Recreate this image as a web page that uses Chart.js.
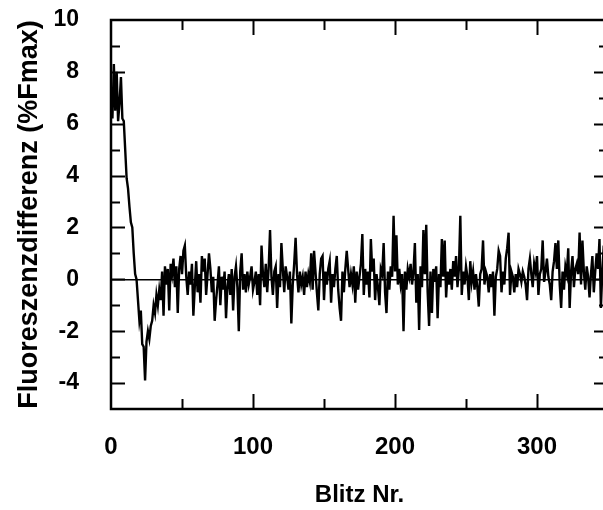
<!DOCTYPE html>
<html>
<head>
<meta charset="utf-8">
<script src="https://cdn.jsdelivr.net/npm/chart.js@4/dist/chart.umd.min.js"></script>
<style>
  html, body { margin: 0; padding: 0; background: #fff; overflow: hidden; }
  #wrap { width: 603px; height: 510px; overflow: hidden; }
</style>
</head>
<body>
<div id="wrap"><canvas id="c" width="620" height="510"></canvas></div>
<script>
// Fluorescence difference (% of Fmax) per flash number
const fluorDiff = [
  6.2, 8.3, 6.5, 8.0, 6.1, 6.8, 7.8, 6.2, 6.1, 5.0,
  3.9, 3.5, 2.8, 2.2, 2.0, 1.0, 0.2, 0.0, -0.8, -1.6,
  -1.2, -2.5, -2.6, -3.9, -2.4, -2.0, -2.3, -1.8, -1.6, -1.0,
  -1.3, -0.6, -1.0, -0.4, -0.8, 0.3, -1.4, 0.5, -0.2, 0.4,
  -1.2, 0.6, 0.2, 0.8, -0.3, 0.5, -1.3, 0.4, 0.9, 0.2,
  1.1, 1.3, 0.1, -0.6, 0.3, -0.2, 0.6, -1.4, -0.3, 0.7,
  -0.5, 0.2, -0.9, 0.9, 0.3, 0.8, -0.6, 0.2, 1.0, 0.4,
  -0.5, 0.1, -1.6, -0.8, -0.2, 0.5, -1.0, 0.1, -0.4, 0.3,
  -1.5, -0.3, 0.2, -0.6, 0.4, -1.2, 0.1, 0.5, -0.3, -2.0,
  0.3, 1.0, -0.4, 0.2, -0.5, 0.3, -0.2, 0.1, 0.5, -0.4,
  -0.1, 0.3, -0.6, 0.2, -1.0, 1.3, 0.2, -0.3, 0.6, -0.5,
  0.4, 1.9, 0.1, -0.6, 0.3, 0.5, -1.1, 0.2, -0.3, 1.4,
  0.4, -0.5, 0.5, 0.1, -0.4, 0.3, -1.7, -0.2, 0.6, 1.6,
  0.2, -0.5, 0.3, -0.2, 0.1, -0.6, 0.3, -0.3, 0.2, -0.1,
  1.0, -0.4, 1.1, 0.3, -0.5, -1.2, 0.2, 0.8, 0.9, -0.8,
  0.3, -0.2, 0.4, 0.7, -0.9, 0.2, -0.3, 0.4, 0.9, -0.4,
  -1.1, -1.6, 0.3, -0.5, 0.4, 1.1, 0.4, -0.3, 0.2, -0.2,
  0.5, -0.9, 0.3, -0.4, 0.1, 0.6, 1.75, -0.6, 0.4, -0.2,
  0.3, -0.7, 1.55, 0.3, 0.8, -0.8, 0.2, -0.3, -1.0, 0.4,
  0.2, 1.4, -0.5, -1.3, 0.3, -0.4, 0.5, 0.1, 2.45, 0.3,
  1.7, -0.2, 0.4, -0.2, 0.2, -2.0, 0.3, -0.4, 0.4, 0.1,
  0.6, -0.2, 0.3, 1.4, -0.9, 0.2, -1.95, 0.5, -0.3, 1.9,
  0.2, 2.1, -0.5, -1.8, 0.3, -1.3, 0.4, -0.1, 0.5, -1.5,
  0.2, -0.3, 1.55, 0.1, 1.5, -0.7, 0.3, -0.2, 0.4, -0.4,
  0.7, 0.1, 0.9, -0.3, 0.4, 2.45, -0.6, 0.3, -0.2, 0.5,
  0.1, -0.8, 0.7, -0.1, 0.3, -0.4, 0.2, -0.3, -1.05, 0.2,
  0.4, 1.5, -0.2, 0.3, 0.1, -0.5, 0.2, -0.3, 0.3, -1.4,
  0.1, 0.4, 1.1, 0.9, -0.5, 0.3, -0.2, 0.8, 1.2, 1.8,
  -0.6, 0.3, 0.1, -0.5, 0.2, -0.3, 0.4, 0.2, -0.1, 0.3,
  0.1, -0.2, -0.8, 0.4, 0.8, 0.2, -0.3, 0.6, 0.3, 0.9,
  -0.6, 0.2, 0.4, 1.5, -0.1, 0.3, 0.8, 0.1, -0.2, -0.8,
  0.3, 0.7, 1.4, 0.4, 1.5, -0.2, -1.1, 0.3, -0.4, 0.5,
  0.2, 1.2, -1.1, 0.3, 0.9, -0.3, 0.4, 0.6, 0.2, 1.8,
  -0.2, 1.5, 0.3, -0.4, 0.5, 0.1, -0.7, 0.2, 0.9, -0.5,
  0.3, 1.0, 0.4, 1.55, -1.1, 0.3, 1.3, -0.4, 0.6, -0.2
];
// Flash numbers (Blitz Nr.)
const blitzNr = fluorDiff.map((_, i) => i + 1);

// Labelled ticks
const xTickLabels = [0, 100, 200, 300];
const yTickLabels = [-4, -2, 0, 2, 4, 6, 8, 10];

const points = blitzNr.map((x, i) => ({ x: x, y: fluorDiff[i] }));
const FONT = "'Liberation Sans', Arial, Helvetica, sans-serif";

// Frame around the plot area with inward tick marks on all four sides
const framePlugin = {
  id: 'frame',
  afterDraw(chart) {
    const { ctx, chartArea: a, scales: { x, y } } = chart;
    ctx.save();
    ctx.strokeStyle = '#000';
    ctx.lineCap = 'butt';
    ctx.lineWidth = 2;
    // x tick marks every 50, longer at every 100
    for (let v = 50; v < x.max; v += 50) {
      const px = Math.round(x.getPixelForValue(v)) + 0.5;
      const len = v % 100 === 0 ? 15 : 10;
      ctx.beginPath();
      ctx.moveTo(px, a.bottom); ctx.lineTo(px, a.bottom - len);
      ctx.moveTo(px, a.top); ctx.lineTo(px, a.top + len);
      ctx.stroke();
    }
    // y tick marks every 1, longer at even values
    for (let v = y.min + 1; v < y.max; v += 1) {
      const py = Math.round(y.getPixelForValue(v)) + 0.5;
      const len = v % 2 === 0 ? 14 : 9;
      ctx.beginPath();
      ctx.moveTo(a.left, py); ctx.lineTo(a.left + len, py);
      ctx.moveTo(a.right, py); ctx.lineTo(a.right - len, py);
      ctx.stroke();
    }
    ctx.lineWidth = 2.5;
    ctx.strokeRect(a.left, a.top, a.right - a.left, a.bottom - a.top);
    ctx.restore();
  }
};

new Chart(document.getElementById('c'), {
  type: 'line',
  data: {
    datasets: [{
      data: points,
      borderColor: '#000',
      borderWidth: 2.4,
      pointRadius: 0,
      tension: 0,
      fill: false
    }]
  },
  options: {
    responsive: false,
    animation: false,
    layout: { padding: { left: 0, top: 20, right: 12, bottom: 0 } },
    plugins: { legend: { display: false }, tooltip: { enabled: false } },
    scales: {
      x: {
        type: 'linear',
        min: 0,
        max: 350,
        afterBuildTicks: s => { s.ticks = xTickLabels.map(v => ({ value: v })); },
        afterFit: s => { s.height = 101; s.paddingLeft = 0; s.paddingRight = 0; },
        grid: { display: false, drawTicks: false },
        border: { display: false },
        ticks: {
          color: '#000',
          padding: 24,
          maxRotation: 0,
          font: { family: FONT, size: 24, weight: 'bold' }
        },
        title: {
          display: true,
          text: 'Blitz Nr.',
          color: '#000',
          padding: { top: 0, bottom: 0 },
          font: { family: FONT, size: 24, weight: 'bold' }
        }
      },
      y: {
        min: -5,
        max: 10,
        afterBuildTicks: s => { s.ticks = yTickLabels.map(v => ({ value: v })); },
        afterFit: s => { s.width = 111; s.paddingTop = 0; s.paddingBottom = 0; },
        grid: {
          drawTicks: false,
          lineWidth: 1.5,
          color: c => (c.tick && c.tick.value === 0 ? '#000' : 'rgba(0,0,0,0)')
        },
        border: { display: false },
        ticks: {
          color: '#000',
          padding: 32,
          font: { family: FONT, size: 23, weight: 'bold' }
        },
        title: {
          display: true,
          text: 'Fluoreszenzdifferenz (%Fmax)',
          color: '#000',
          padding: { top: 13, bottom: 0 },
          font: { family: FONT, size: 27, weight: 'bold' }
        }
      }
    }
  },
  plugins: [framePlugin]
});
</script>
</body>
</html>
